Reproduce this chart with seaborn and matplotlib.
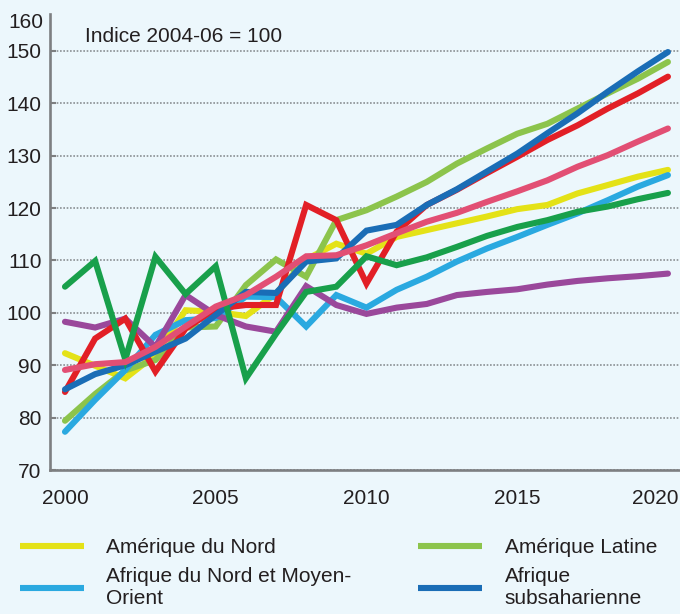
"""Indice de production agricole par région, 2000-2020 (base 2004-06 = 100)."""
import matplotlib
matplotlib.use("Agg")
import matplotlib.pyplot as plt
import matplotlib.transforms as mtransforms
from matplotlib.lines import Line2D
import numpy as np
import pandas as pd
import seaborn as sns

years = list(range(2000, 2021))

amerique_nord = [92.3, 89.9, 87.5, 92.0, 100.5, 100.2, 99.4, 103.7, 110.2, 113.2, 111.3,
                 114.5, 115.8, 117.1, 118.4, 119.8, 120.6, 122.8, 124.4, 126.0, 127.3]
amerique_latine = [79.4, 84.5, 89.0, 91.0, 97.2, 97.4, 105.3, 110.2, 106.9, 117.7, 119.6,
                   122.2, 125.0, 128.5, 131.4, 134.2, 136.1, 139.0, 141.9, 144.7, 147.9]
afrique_nord_mo = [77.3, 83.4, 89.1, 95.8, 98.6, 99.0, 103.1, 103.0, 97.4, 103.4, 101.0,
                   104.4, 106.9, 109.8, 112.3, 114.5, 116.8, 119.0, 121.5, 124.1, 126.3]
afrique_subsah = [85.4, 88.3, 90.0, 92.6, 95.1, 99.6, 104.0, 103.8, 109.8, 110.4, 115.7,
                  116.8, 120.6, 123.6, 127.0, 130.4, 134.3, 138.1, 142.2, 146.1, 149.8]
europe_asie_c = [98.3, 97.2, 98.9, 93.5, 103.4, 99.6, 97.4, 96.4, 105.1, 101.5, 99.8,
                 101.0, 101.7, 103.4, 104.0, 104.5, 105.4, 106.1, 106.6, 107.0, 107.5]
asie_sud = [84.9, 95.1, 98.9, 88.8, 97.0, 100.8, 101.5, 101.5, 120.6, 117.7, 105.6,
            115.5, 120.6, 123.5, 126.7, 129.8, 133.0, 135.8, 139.0, 141.9, 145.1]
asie_est = [89.1, 90.2, 90.6, 93.5, 97.4, 101.2, 103.4, 106.9, 110.8, 111.0, 112.9,
            115.2, 117.4, 119.1, 121.2, 123.2, 125.3, 127.9, 130.1, 132.7, 135.2]
oceanie = [105.0, 109.9, 91.1, 110.7, 103.6, 108.9, 87.5, 96.0, 104.0, 105.0, 110.8,
           109.1, 110.6, 112.6, 114.7, 116.4, 117.7, 119.3, 120.3, 121.7, 122.9]

regions = {
    "Amérique du Nord": amerique_nord,
    "Amérique Latine": amerique_latine,
    "Afrique du Nord et Moyen-Orient": afrique_nord_mo,
    "Europe et Asie centrale": europe_asie_c,
    "Asie du Sud et du Sud-Est": asie_sud,
    "Afrique subsaharienne": afrique_subsah,
    "Océanie": oceanie,
    "Asie de l'Est": asie_est,
}
colors = {
    "Amérique du Nord": "#e4e217",
    "Amérique Latine": "#8cc44c",
    "Afrique du Nord et Moyen-Orient": "#2aa9e0",
    "Europe et Asie centrale": "#9a489b",
    "Asie du Sud et du Sud-Est": "#e21f26",
    "Afrique subsaharienne": "#1a6db6",
    "Océanie": "#18a04b",
    "Asie de l'Est": "#e24f74",
}
# only these show in the (cropped) legend
legend_items = [("Amérique du Nord", "Amérique du Nord"),
                ("Afrique du Nord et Moyen-Orient", "Afrique du Nord et Moyen-\nOrient"),
                ("Amérique Latine", "Amérique Latine"),
                ("Afrique subsaharienne", "Afrique\nsubsaharienne")]

df = pd.DataFrame([(r, y, v) for r, vals in regions.items() for y, v in zip(years, vals)],
                  columns=["region", "year", "value"])

bg = "#ecf7fc"
sns.set_theme(style="white")
plt.rcParams["font.family"] = ["Liberation Sans", "DejaVu Sans"]
plt.rcParams["font.size"] = 15

fig = plt.figure(figsize=(6.8, 6.14), dpi=100, facecolor=bg)
ax = fig.add_axes([50 / 680, 144 / 614, 630 / 680, 456 / 614], facecolor=bg)

sns.lineplot(data=df, x="year", y="value", hue="region", hue_order=list(regions),
             palette=colors, linewidth=4.4, legend=False, ax=ax,
             solid_capstyle="round", solid_joinstyle="miter")

ax.set_xlim(1999.503, 2020.4)
ax.set_ylim(70, 157.06)
ax.set_xticks([2000, 2005, 2010, 2015, 2020])
ax.set_yticks(range(70, 151, 10))
ax.set_xlabel("")
ax.set_ylabel("")

ax.yaxis.grid(True, color="#8a8f93", linestyle=(0, (1, 1)), linewidth=1.2)
ax.xaxis.grid(False)
ax.set_axisbelow(True)
for side in ("top", "right"):
    ax.spines[side].set_visible(False)
for side in ("left", "bottom"):
    ax.spines[side].set_color("#7d7f81")
    ax.spines[side].set_linewidth(1.9)

ax.tick_params(axis="y", direction="in", length=4, width=1.5, color="#7d7f81",
               labelsize=15, labelcolor="#231f20", pad=6, left=True)
ax.tick_params(axis="x", length=0, labelsize=15, labelcolor="#231f20", pad=14)
last = ax.get_xticklabels()[-1]
last.set_horizontalalignment("right")
last.set_transform(last.get_transform() +
                   mtransforms.ScaledTranslation(11 / 100, 0, fig.dpi_scale_trans))

ax.text(-0.011, 0.982, "160", transform=ax.transAxes, ha="right", va="center",
        fontsize=15, color="#231f20")
ax.text(0.0556, 0.9496, "Indice 2004-06 = 100", transform=ax.transAxes,
        ha="left", va="center", fontsize=15, color="#231f20")

handles = [Line2D([], [], color=colors[k], linewidth=4.4, solid_capstyle="butt")
           for k, _ in legend_items]
labels = [lab for _, lab in legend_items]
fig.legend(handles, labels, ncol=2, loc="upper left",
           bbox_to_anchor=(20 / 680, 1 - 538 / 614), frameon=False,
           borderpad=0, borderaxespad=0, handlelength=3.05, handletextpad=1.1,
           columnspacing=3.2, labelspacing=0.5, fontsize=15,
           labelcolor="#231f20")

fig.savefig("out.png", dpi=100, facecolor=bg)
